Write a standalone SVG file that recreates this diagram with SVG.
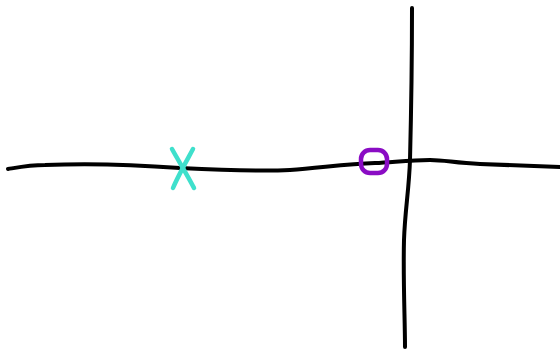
<svg xmlns="http://www.w3.org/2000/svg" width="560" height="351" viewBox="0 0 560 351">
<style>
.ln{fill:none;stroke:#000;stroke-width:4;stroke-linecap:round;stroke-linejoin:round}
.x{fill:none;stroke:#3fe0cc;stroke-width:4.5;stroke-linecap:round}
.o{fill:none;stroke:#8a0cc4;stroke-width:4.5}
</style>
<rect width="560" height="351" fill="#fff"/>
<g id="axes">
<path class="ln" d="M8,169 C20,167 30,165 45,165 C90,163 140,165 180,168 C220,170 270,171 290,170 C320,168 345,164 375,163 C395,162 410,160 430,160 C445,160 455,163 480,164 C510,165 535,166 560,167"/>
<path class="ln" d="M412,8 C412,60 411,120 410,160 C409,190 405,210 404,240 C403,280 405,320 405,347"/>
</g>
<g id="x-mark">
<path class="x" d="M172,149 C178,160 188,176 194,188"/>
<path class="x" d="M193,149 C186,162 178,176 173,188"/>
</g>
<g id="o-mark">
<rect class="o" x="361" y="150" width="26" height="23" rx="9" ry="9"/>
</g>
</svg>
